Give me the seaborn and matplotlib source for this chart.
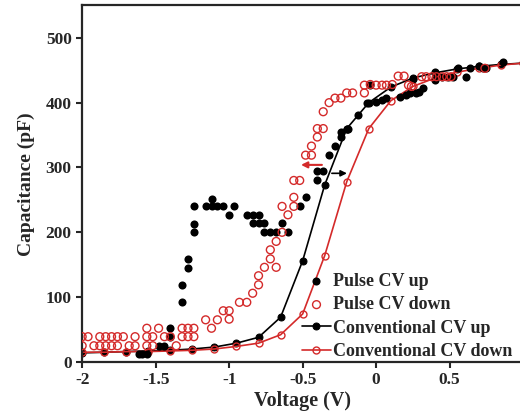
import matplotlib
matplotlib.use("Agg")
import matplotlib.pyplot as plt
import seaborn as sns

# conventional CV sweeps (markers every 0.15 V)
conv_v = [-2.0, -1.85, -1.7, -1.55, -1.4, -1.25, -1.1, -0.95, -0.8, -0.65, -0.5,
          -0.35, -0.2, -0.05, 0.1, 0.25, 0.4, 0.55, 0.7, 0.85, 1.0]
conv_up = [14, 15, 16, 17, 18, 20, 23, 29, 38, 69, 156,
           273, 360, 400, 424, 438, 446, 452, 456, 459, 461]
conv_down = [15, 15, 16, 16, 17, 18, 20, 24, 29, 42, 74,
             164, 278, 360, 403, 425, 438, 447, 453, 458, 461]

# pulse CV up
pulse_up_v = [-1.61, -1.59, -1.56, -1.48, -1.44, -1.40, -1.40, -1.32, -1.32, -1.28,
              -1.28, -1.24, -1.24, -1.24, -1.16, -1.12, -1.12, -1.08, -1.04, -1.00,
              -0.97, -0.88, -0.84, -0.80, -0.84, -0.80, -0.76, -0.76, -0.72, -0.68,
              -0.64, -0.60, -0.52, -0.48, -0.40, -0.36, -0.40, -0.32, -0.28, -0.24,
              -0.24, -0.20, -0.19, -0.12, -0.06, 0.00, 0.04, 0.07, -0.04, 0.16,
              0.20, 0.23, 0.27, 0.29, 0.32, 0.25, 0.40, 0.40, 0.45, 0.49,
              0.52, 0.61, 0.56, 0.64, 0.70, 0.73, 0.75, 0.86]
pulse_up_c = [12, 12, 12, 25, 25, 39, 52, 92, 119, 145,
              159, 200, 213, 240, 240, 240, 252, 240, 240, 227,
              240, 227, 227, 227, 214, 214, 214, 200, 200, 200,
              214, 200, 240, 254, 294, 294, 280, 320, 333, 347,
              355, 360, 360, 381, 399, 401, 404, 407, 427, 409,
              412, 415, 415, 417, 422, 437, 435, 447, 440, 440,
              440, 440, 454, 454, 457, 454, 454, 462]

# pulse CV down
pulse_down_v = [-2.00, -1.96, -1.88, -1.84, -1.80, -1.76, -1.72, -1.64, -1.56, -1.52,
                -1.44, -1.40, -1.32, -1.28, -1.24,
                -2.00, -1.92, -1.88, -1.84, -1.80, -1.76, -1.68, -1.64, -1.56, -1.52,
                -1.36,
                -1.56, -1.48, -1.32, -1.28, -1.24, -1.12,
                -1.16, -1.08, -1.00, -1.04, -1.00,
                -0.93, -0.88, -0.84, -0.80, -0.80, -0.76, -0.72, -0.72, -0.68, -0.68,
                -0.64, -0.64, -0.60, -0.56, -0.56, -0.56, -0.52, -0.48, -0.44, -0.44,
                -0.40, -0.40, -0.36, -0.36, -0.32, -0.28, -0.24, -0.20, -0.16, -0.08,
                -0.08, -0.04, 0.00, 0.04, 0.07, 0.11, 0.15, 0.19, 0.22, 0.24,
                0.31, 0.34, 0.38, 0.41, 0.45, 0.48, 0.51, 0.74]
pulse_down_c = [39, 39, 39, 39, 39, 39, 39, 39, 39, 39,
                39, 39, 39, 39, 39,
                25, 25, 25, 25, 25, 25, 25, 25, 25, 25,
                25,
                52, 52, 52, 52, 52, 52,
                65, 65, 66, 79, 79,
                92, 92, 106, 119, 133, 146, 159, 173, 146, 186,
                200, 240, 227, 240, 254, 280, 280, 319, 319, 333,
                347, 360, 360, 386, 400, 407, 407, 415, 415, 415,
                427, 428, 427, 427, 427, 428, 441, 441, 427, 425,
                440, 440, 440, 440, 440, 440, 440, 453]

red = "#d42a2a"
serif = ["Liberation Serif", "DejaVu Serif"]

sns.set_style("ticks")
plt.rcParams["font.family"] = serif
plt.rcParams["font.weight"] = "bold"

fig = plt.figure(figsize=(5.2, 4.17), dpi=100)
ax = fig.add_axes([0.158, 0.132, 0.848, 0.855])

sns.scatterplot(x=pulse_up_v, y=pulse_up_c, ax=ax, color="black", marker="o",
                s=34, linewidth=0, label="Pulse CV up", zorder=3)
sns.scatterplot(x=pulse_down_v, y=pulse_down_c, ax=ax, marker="o", s=32,
                facecolors="none", edgecolors=red, linewidth=1.0,
                label="Pulse CV down", zorder=3)
sns.lineplot(x=conv_v, y=conv_up, ax=ax, color="black", lw=1.2, marker="o",
             markersize=5, markeredgecolor="black", sort=False, estimator=None,
             label="Conventional CV up", zorder=2)
sns.lineplot(x=conv_v, y=conv_down, ax=ax, color=red, lw=1.2, marker="o",
             markersize=5, markerfacecolor="none", markeredgecolor=red,
             markeredgewidth=1.0, sort=False, estimator=None,
             label="Conventional CV down", zorder=2)

# shift arrows
ax.annotate("", xy=(-0.53, 304), xytext=(-0.35, 304),
            arrowprops=dict(arrowstyle="-|>", color=red, lw=1.5, mutation_scale=9))
ax.annotate("", xy=(-0.18, 291), xytext=(-0.32, 291),
            arrowprops=dict(arrowstyle="-|>", color="black", lw=1.2, mutation_scale=9))

ax.set_xlim(-2, 1)
ax.set_ylim(0, 550)
ax.set_xticks([-2, -1.5, -1, -0.5, 0, 0.5, 1])
ax.set_xticklabels(["-2", "-1.5", "-1", "-0.5", "0", "0.5", ""])
ax.set_yticks([0, 100, 200, 300, 400, 500])
ax.tick_params(labelsize=12.5, width=1.5, length=4, direction="out")
for t in ax.get_xticklabels() + ax.get_yticklabels():
    t.set_fontweight("bold")
for sp in ax.spines.values():
    sp.set_linewidth(1.6)
    sp.set_visible(True)

ax.set_xlabel("Voltage (V)", fontsize=14.5, fontweight="bold", labelpad=2)
ax.set_ylabel("Capacitance (pF)", fontsize=14, fontweight="bold", labelpad=8)

ax.legend(loc="lower left", bbox_to_anchor=(0.47, -0.03), frameon=False,
          prop={"family": serif, "weight": "bold", "size": 13},
          handlelength=1.6, handletextpad=0.1, labelspacing=0.35, borderpad=0.2)

fig.savefig("out.png", dpi=100)
